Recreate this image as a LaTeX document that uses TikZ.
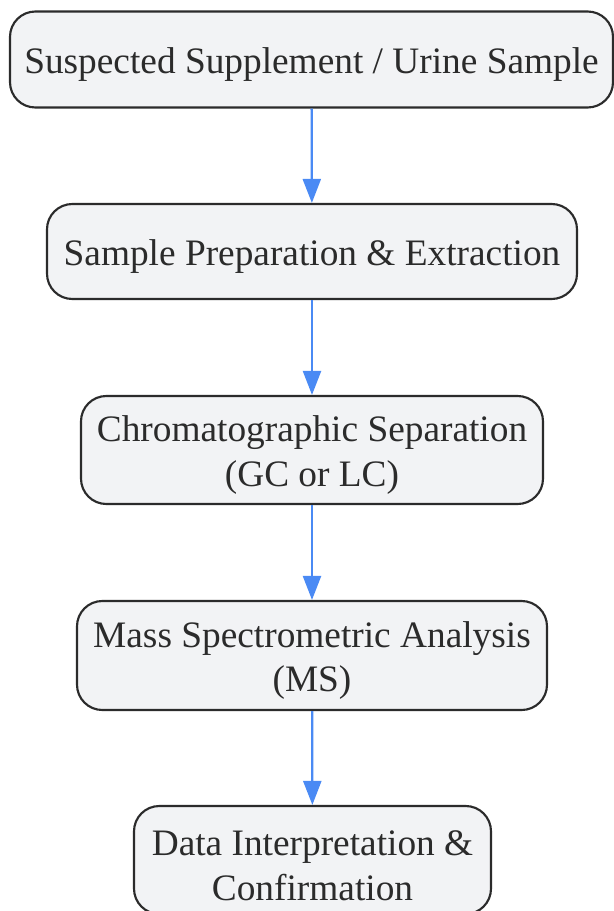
\documentclass[tikz,border=0pt]{standalone}
\usepackage{fontspec}
\setmainfont{Liberation Serif}
\usetikzlibrary{arrows.meta}
\definecolor{boxfill}{HTML}{F2F3F5}
\definecolor{boxline}{HTML}{2B2B2B}
\definecolor{flowblue}{HTML}{4A8AF4}
\newcommand{\topstrut}{\rule{0pt}{27pt}}

\begin{document}
\begin{tikzpicture}[x=0.75pt,y=-0.75pt]
\tikzstyle{every node}+=[inner sep=0pt]
\tikzstyle{stagebox}=[draw=boxline, fill=boxfill, line width=1.6pt, rounded corners=19pt, align=center, font=\fontsize{28}{33.5}\selectfont, text=boxline]
\tikzstyle{flow}=[draw=flowblue, line width=1.7pt, -{Triangle[length=18pt,width=13.5pt]}]
\useasboundingbox (0,0) rectangle (614,911);
\node [stagebox, minimum width=603*0.75pt, minimum height=96*0.75pt] (sample) at (311.5,59.5) {\topstrut Suspected Supplement / Urine Sample};
\node [stagebox, minimum width=530*0.75pt, minimum height=95*0.75pt] (prep) at (312,251.5) {\topstrut Sample Preparation \& Extraction};
\node [stagebox, minimum width=462*0.75pt, minimum height=108*0.75pt] (chrom) at (312,450) {\topstrut Chromatographic Separation\\(GC or LC)};
\node [stagebox, minimum width=470*0.75pt, minimum height=109*0.75pt] (mass) at (312,655.5) {\topstrut Mass Spectrometric Analysis\\(MS)};
\node [stagebox, minimum width=357*0.75pt, minimum height=108*0.75pt] (data) at (312.5,860) {\topstrut Data Interpretation \&\\Confirmation};
\draw [flow] (sample) -- (prep);
\draw [flow] (prep) -- (chrom);
\draw [flow] (chrom) -- (mass);
\draw [flow] (mass) -- (data);
\end{tikzpicture}
\end{document}
